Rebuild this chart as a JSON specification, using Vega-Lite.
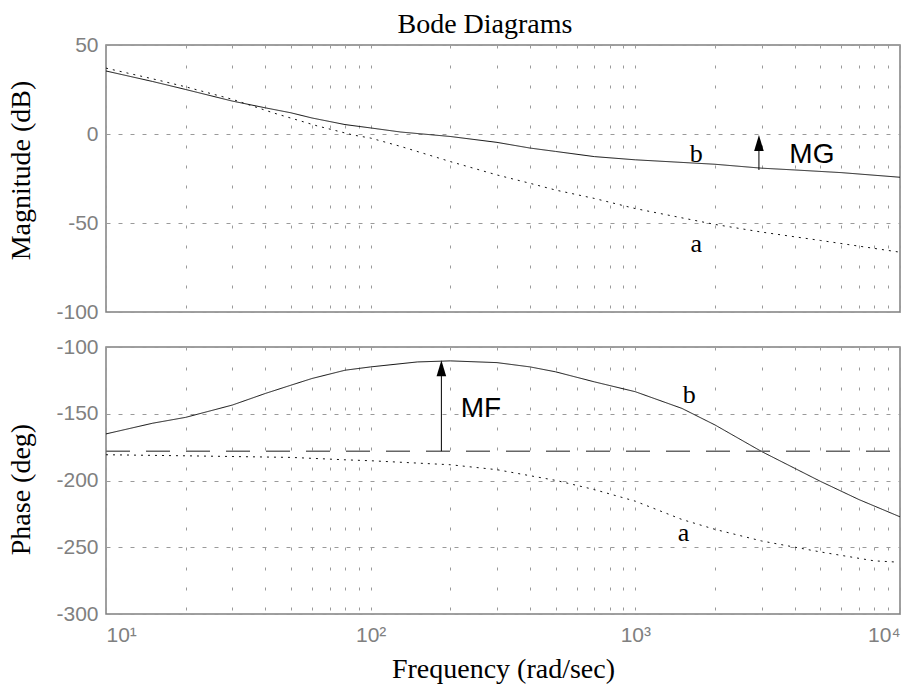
{
  "$schema": "https://vega.github.io/schema/vega-lite/v6.json",
  "background": "white",
  "padding": {"left": 7, "top": 10, "right": 16, "bottom": 0},
  "spacing": 12,
  "config": {
    "view": {"stroke": "#808080", "strokeWidth": 1.5},
    "axis": {
      "labelFont": "Liberation Sans", "labelFontSize": 21, "labelColor": "#808080",
      "titleFont": "Liberation Serif", "titleFontSize": 28, "titleFontWeight": "normal", "titleColor": "black",
      "gridColor": "#9a9a9a", "gridWidth": 1, "gridOpacity": 1, "domain": false, "ticks": false
    },
    "title": {"font": "Liberation Serif", "fontSize": 28, "fontWeight": "normal", "color": "black"}
  },
  "datasets": {
    "mag": [
      {"f": 10, "v": 35.4, "s": "b"}, {"f": 15, "v": 29.5, "s": "b"}, {"f": 20, "v": 25, "s": "b"},
      {"f": 30, "v": 18.5, "s": "b"}, {"f": 40, "v": 14.7, "s": "b"}, {"f": 50, "v": 11.9, "s": "b"},
      {"f": 60, "v": 9.0, "s": "b"}, {"f": 80, "v": 5.3, "s": "b"}, {"f": 100, "v": 3.4, "s": "b"},
      {"f": 130, "v": 1.1, "s": "b"}, {"f": 200, "v": -1.4, "s": "b"}, {"f": 300, "v": -4.7, "s": "b"},
      {"f": 400, "v": -7.9, "s": "b"}, {"f": 500, "v": -9.8, "s": "b"}, {"f": 700, "v": -12.7, "s": "b"},
      {"f": 1000, "v": -14.5, "s": "b"}, {"f": 2000, "v": -17, "s": "b"}, {"f": 3000, "v": -19.2, "s": "b"},
      {"f": 4000, "v": -20.2, "s": "b"}, {"f": 6000, "v": -21.7, "s": "b"}, {"f": 10000, "v": -24.3, "s": "b"},
      {"f": 10, "v": 37, "s": "a"}, {"f": 15, "v": 31, "s": "a"}, {"f": 20, "v": 26.5, "s": "a"},
      {"f": 30, "v": 19.5, "s": "a"}, {"f": 43, "v": 11.8, "s": "a"}, {"f": 63, "v": 4.5, "s": "a"},
      {"f": 86, "v": -0.6, "s": "a"}, {"f": 100, "v": -2.3, "s": "a"}, {"f": 130, "v": -7, "s": "a"},
      {"f": 200, "v": -15.5, "s": "a"}, {"f": 300, "v": -23, "s": "a"}, {"f": 400, "v": -27.7, "s": "a"},
      {"f": 500, "v": -31.5, "s": "a"}, {"f": 700, "v": -36.2, "s": "a"}, {"f": 1000, "v": -41.9, "s": "a"},
      {"f": 2000, "v": -50.8, "s": "a"}, {"f": 3000, "v": -55.1, "s": "a"}, {"f": 5000, "v": -59.8, "s": "a"},
      {"f": 10000, "v": -66.4, "s": "a"}
    ],
    "phase": [
      {"f": 10, "v": -165.1, "s": "b"}, {"f": 15, "v": -157.1, "s": "b"}, {"f": 20, "v": -152.7, "s": "b"},
      {"f": 30, "v": -143.5, "s": "b"}, {"f": 40, "v": -134.8, "s": "b"}, {"f": 50, "v": -128.6, "s": "b"},
      {"f": 60, "v": -123.6, "s": "b"}, {"f": 80, "v": -117.4, "s": "b"}, {"f": 100, "v": -114.9, "s": "b"},
      {"f": 150, "v": -111.2, "s": "b"}, {"f": 200, "v": -110.4, "s": "b"}, {"f": 300, "v": -111.7, "s": "b"},
      {"f": 400, "v": -114.9, "s": "b"}, {"f": 500, "v": -118.6, "s": "b"}, {"f": 700, "v": -126.1, "s": "b"},
      {"f": 1000, "v": -133.5, "s": "b"}, {"f": 1500, "v": -146, "s": "b"}, {"f": 2000, "v": -158.4, "s": "b"},
      {"f": 3000, "v": -178.3, "s": "b"}, {"f": 5000, "v": -200.6, "s": "b"}, {"f": 7000, "v": -214.3, "s": "b"},
      {"f": 10000, "v": -227.2, "s": "b"},
      {"f": 10, "v": -180.7, "s": "a"}, {"f": 20, "v": -181.5, "s": "a"}, {"f": 50, "v": -182.7, "s": "a"},
      {"f": 80, "v": -184.5, "s": "a"}, {"f": 100, "v": -185.2, "s": "a"}, {"f": 200, "v": -188.2, "s": "a"},
      {"f": 300, "v": -191.9, "s": "a"}, {"f": 500, "v": -199.9, "s": "a"}, {"f": 700, "v": -206.8, "s": "a"},
      {"f": 1000, "v": -215.5, "s": "a"}, {"f": 1500, "v": -229.2, "s": "a"}, {"f": 2000, "v": -236.6, "s": "a"},
      {"f": 3000, "v": -245.3, "s": "a"}, {"f": 5000, "v": -253.5, "s": "a"}, {"f": 8000, "v": -260.2, "s": "a"},
      {"f": 9500, "v": -261, "s": "a"}
    ],
    "ref": [{"f": 10, "v": -178}, {"f": 10000, "v": -178}],
    "mgArrow": [{"f": 2931, "v1": -20.2, "v2": -5, "tip": -0.6}],
    "mfArrow": [{"f": 185, "v1": -178, "v2": -118, "tip": -110}],
    "magSerif": [{"f": 1700, "v": -15.7, "t": "b"}, {"f": 1700, "v": -66.1, "t": "a"}],
    "magSans": [{"f": 4645, "v": -16.5, "t": "MG"}],
    "phSerif": [{"f": 1600, "v": -141.7, "t": "b"}, {"f": 1520, "v": -245.2, "t": "a"}],
    "phSans": [{"f": 261, "v": -152.5, "t": "MF"}]
  },
  "vconcat": [
    {
      "width": 794,
      "height": 267,
      "title": {"text": "Bode Diagrams", "offset": -5, "dx": -18},
      "layer": [
        {
          "data": {"name": "mag"},
          "mark": {"type": "line", "color": "#111", "strokeWidth": 1},
          "encoding": {
            "x": {"field": "f", "type": "quantitative",
              "scale": {"type": "log", "domain": [10, 10000], "nice": false},
              "axis": {"labels": false, "title": null, "gridDash": [3, 17],
                "values": [10,20,30,40,50,60,70,80,90,100,200,300,400,500,600,700,800,900,1000,2000,3000,4000,5000,6000,7000,8000,9000,10000]}},
            "y": {"field": "v", "type": "quantitative",
              "scale": {"domain": [-100, 50], "nice": false, "zero": false},
              "axis": {"values": [-100, -50, 0, 50], "title": "Magnitude (dB)", "gridDash": [4, 8], "labelPadding": 8, "titlePadding": 20, "titleY": 125,
                "labelExpr": "replace(datum.label, '−', '-')"}},
            "strokeDash": {"field": "s", "type": "nominal",
              "scale": {"domain": ["a", "b"], "range": [[2, 5], [1, 0]]}, "legend": null}
          }
        },
        {
          "data": {"name": "mgArrow"},
          "mark": {"type": "rule", "color": "black", "strokeWidth": 1},
          "encoding": {
            "x": {"field": "f", "type": "quantitative"},
            "y": {"field": "v1", "type": "quantitative"},
            "y2": {"field": "v2"}
          }
        },
        {
          "data": {"name": "mgArrow"},
          "mark": {"type": "point", "shape": "M0,0L-0.6,2L0.6,2Z", "filled": true, "color": "black", "opacity": 1, "size": 256},
          "encoding": {
            "x": {"field": "f", "type": "quantitative"},
            "y": {"field": "tip", "type": "quantitative"}
          }
        },
        {
          "data": {"name": "magSerif"},
          "mark": {"type": "text", "font": "Liberation Serif", "fontSize": 26, "align": "center", "baseline": "alphabetic", "color": "black"},
          "encoding": {
            "x": {"field": "f", "type": "quantitative"},
            "y": {"field": "v", "type": "quantitative"},
            "text": {"field": "t"}
          }
        },
        {
          "data": {"name": "magSans"},
          "mark": {"type": "text", "font": "Liberation Sans", "fontSize": 28, "align": "center", "baseline": "alphabetic", "color": "black"},
          "encoding": {
            "x": {"field": "f", "type": "quantitative"},
            "y": {"field": "v", "type": "quantitative"},
            "text": {"field": "t"}
          }
        }
      ]
    },
    {
      "width": 794,
      "height": 267,
      "layer": [
        {
          "data": {"name": "phase"},
          "mark": {"type": "line", "color": "#111", "strokeWidth": 1},
          "encoding": {
            "x": {"field": "f", "type": "quantitative",
              "scale": {"type": "log", "domain": [10, 10000], "nice": false},
              "axis": {"title": "Frequency (rad/sec)", "gridDash": [3, 17], "labelPadding": 10, "titlePadding": 10, "labelOverlap": false,
                "values": [10,20,30,40,50,60,70,80,90,100,200,300,400,500,600,700,800,900,1000,2000,3000,4000,5000,6000,7000,8000,9000,10000],
                "labelExpr": "datum.value == 10 ? '10¹' : datum.value == 100 ? '10²' : datum.value == 1000 ? '10³' : datum.value == 10000 ? '10⁴' : ''"}},
            "y": {"field": "v", "type": "quantitative",
              "scale": {"domain": [-300, -100], "nice": false, "zero": false},
              "axis": {"values": [-300, -250, -200, -150, -100], "title": "Phase (deg)", "gridDash": [4, 8], "labelPadding": 8, "titlePadding": 20, "titleY": 142,
                "labelExpr": "replace(datum.label, '−', '-')"}},
            "strokeDash": {"field": "s", "type": "nominal",
              "scale": {"domain": ["a", "b"], "range": [[2, 5], [1, 0]]}, "legend": null}
          }
        },
        {
          "data": {"name": "ref"},
          "mark": {"type": "line", "color": "#666", "strokeWidth": 1.5, "strokeDash": [24, 16]},
          "encoding": {
            "x": {"field": "f", "type": "quantitative"},
            "y": {"field": "v", "type": "quantitative"}
          }
        },
        {
          "data": {"name": "mfArrow"},
          "mark": {"type": "rule", "color": "black", "strokeWidth": 1},
          "encoding": {
            "x": {"field": "f", "type": "quantitative"},
            "y": {"field": "v1", "type": "quantitative"},
            "y2": {"field": "v2"}
          }
        },
        {
          "data": {"name": "mfArrow"},
          "mark": {"type": "point", "shape": "M0,0L-0.6,2L0.6,2Z", "filled": true, "color": "black", "opacity": 1, "size": 256},
          "encoding": {
            "x": {"field": "f", "type": "quantitative"},
            "y": {"field": "tip", "type": "quantitative"}
          }
        },
        {
          "data": {"name": "phSerif"},
          "mark": {"type": "text", "font": "Liberation Serif", "fontSize": 26, "align": "center", "baseline": "alphabetic", "color": "black"},
          "encoding": {
            "x": {"field": "f", "type": "quantitative"},
            "y": {"field": "v", "type": "quantitative"},
            "text": {"field": "t"}
          }
        },
        {
          "data": {"name": "phSans"},
          "mark": {"type": "text", "font": "Liberation Sans", "fontSize": 28, "align": "center", "baseline": "alphabetic", "color": "black"},
          "encoding": {
            "x": {"field": "f", "type": "quantitative"},
            "y": {"field": "v", "type": "quantitative"},
            "text": {"field": "t"}
          }
        }
      ]
    }
  ]
}
